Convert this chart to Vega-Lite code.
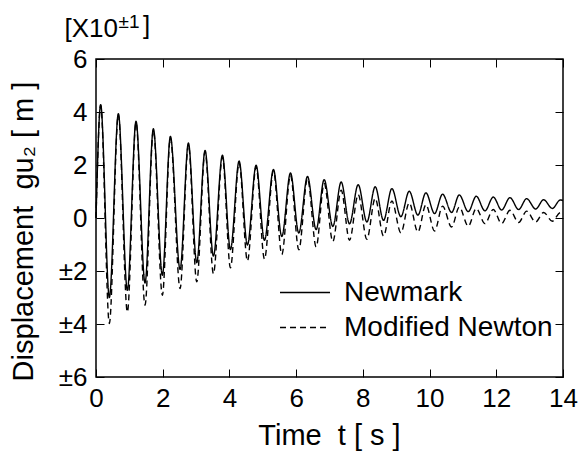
{
  "$schema": "https://vega.github.io/schema/vega-lite/v6.json",
  "width": 467,
  "height": 318,
  "autosize": {"type": "none"},
  "padding": {"left": 96, "top": 59, "right": 16, "bottom": 76},
  "background": "white",
  "title": {
    "text": "]", "orient": "top", "anchor": "start", "frame": "group",
    "font": "Liberation Sans", "fontSize": 26, "fontWeight": "normal", "color": "black",
    "baseline": "alphabetic", "offset": 0, "dx": 47, "dy": 48
  },
  "config": {
    "font": "Liberation Sans",
    "view": {"stroke": "black", "strokeWidth": 1.5},
    "axis": {
      "domain": false, "grid": false, "ticks": true,
      "tickColor": "black", "tickWidth": 1, "tickSize": -8,
      "labelFont": "Liberation Sans", "labelFontSize": 26, "labelColor": "black",
      "titleFont": "Liberation Sans", "titleFontSize": 29, "titleColor": "black", "titleFontWeight": "normal"
    },
    "legend": {
      "labelFont": "Liberation Sans", "labelFontSize": 28, "labelColor": "black", "labelLimit": 400
    }
  },
  "datasets": {
    "curves": [
      {"series": "Newmark", "t": 0, "u": 0},
      {"series": "Newmark", "t": 0.14, "u": 4.28},
      {"series": "Newmark", "t": 0.40, "u": -3.00},
      {"series": "Newmark", "t": 0.67, "u": 3.94},
      {"series": "Newmark", "t": 0.94, "u": -2.73},
      {"series": "Newmark", "t": 1.20, "u": 3.65},
      {"series": "Newmark", "t": 1.47, "u": -2.45},
      {"series": "Newmark", "t": 1.72, "u": 3.37},
      {"series": "Newmark", "t": 1.99, "u": -2.16},
      {"series": "Newmark", "t": 2.23, "u": 3.08},
      {"series": "Newmark", "t": 2.52, "u": -1.94},
      {"series": "Newmark", "t": 2.77, "u": 2.83},
      {"series": "Newmark", "t": 3.02, "u": -1.69},
      {"series": "Newmark", "t": 3.27, "u": 2.55},
      {"series": "Newmark", "t": 3.52, "u": -1.44},
      {"series": "Newmark", "t": 3.79, "u": 2.37},
      {"series": "Newmark", "t": 4.03, "u": -1.19},
      {"series": "Newmark", "t": 4.29, "u": 2.15},
      {"series": "Newmark", "t": 4.54, "u": -1.02},
      {"series": "Newmark", "t": 4.80, "u": 1.99},
      {"series": "Newmark", "t": 5.05, "u": -0.84},
      {"series": "Newmark", "t": 5.32, "u": 1.83},
      {"series": "Newmark", "t": 5.57, "u": -0.70},
      {"series": "Newmark", "t": 5.83, "u": 1.70},
      {"series": "Newmark", "t": 6.08, "u": -0.57},
      {"series": "Newmark", "t": 6.34, "u": 1.57},
      {"series": "Newmark", "t": 6.60, "u": -0.44},
      {"series": "Newmark", "t": 6.84, "u": 1.45},
      {"series": "Newmark", "t": 7.10, "u": -0.32},
      {"series": "Newmark", "t": 7.35, "u": 1.36},
      {"series": "Newmark", "t": 7.60, "u": -0.22},
      {"series": "Newmark", "t": 7.86, "u": 1.26},
      {"series": "Newmark", "t": 8.12, "u": -0.15},
      {"series": "Newmark", "t": 8.37, "u": 1.18},
      {"series": "Newmark", "t": 8.62, "u": -0.09},
      {"series": "Newmark", "t": 8.87, "u": 1.11},
      {"series": "Newmark", "t": 9.14, "u": 0.05},
      {"series": "Newmark", "t": 9.39, "u": 1.01},
      {"series": "Newmark", "t": 9.65, "u": 0.11},
      {"series": "Newmark", "t": 9.89, "u": 0.95},
      {"series": "Newmark", "t": 10.15, "u": 0.17},
      {"series": "Newmark", "t": 10.39, "u": 0.90},
      {"series": "Newmark", "t": 10.66, "u": 0.21},
      {"series": "Newmark", "t": 10.89, "u": 0.87},
      {"series": "Newmark", "t": 11.16, "u": 0.24},
      {"series": "Newmark", "t": 11.40, "u": 0.82},
      {"series": "Newmark", "t": 11.66, "u": 0.27},
      {"series": "Newmark", "t": 11.91, "u": 0.79},
      {"series": "Newmark", "t": 12.16, "u": 0.30},
      {"series": "Newmark", "t": 12.41, "u": 0.77},
      {"series": "Newmark", "t": 12.67, "u": 0.32},
      {"series": "Newmark", "t": 12.91, "u": 0.73},
      {"series": "Newmark", "t": 13.18, "u": 0.34},
      {"series": "Newmark", "t": 13.42, "u": 0.69},
      {"series": "Newmark", "t": 13.68, "u": 0.36},
      {"series": "Newmark", "t": 13.92, "u": 0.68},
      {"series": "Newmark", "t": 14.0, "u": 0.66},
      {"series": "Modified Newton", "t": 0, "u": 0},
      {"series": "Modified Newton", "t": 0.14, "u": 4.25},
      {"series": "Modified Newton", "t": 0.40, "u": -3.98},
      {"series": "Modified Newton", "t": 0.67, "u": 3.90},
      {"series": "Modified Newton", "t": 0.94, "u": -3.55},
      {"series": "Modified Newton", "t": 1.20, "u": 3.60},
      {"series": "Modified Newton", "t": 1.47, "u": -3.29},
      {"series": "Modified Newton", "t": 1.72, "u": 3.32},
      {"series": "Modified Newton", "t": 1.99, "u": -2.92},
      {"series": "Modified Newton", "t": 2.23, "u": 3.03},
      {"series": "Modified Newton", "t": 2.52, "u": -2.66},
      {"series": "Modified Newton", "t": 2.77, "u": 2.77},
      {"series": "Modified Newton", "t": 3.02, "u": -2.41},
      {"series": "Modified Newton", "t": 3.27, "u": 2.50},
      {"series": "Modified Newton", "t": 3.52, "u": -2.10},
      {"series": "Modified Newton", "t": 3.79, "u": 2.30},
      {"series": "Modified Newton", "t": 4.03, "u": -1.88},
      {"series": "Modified Newton", "t": 4.29, "u": 2.08},
      {"series": "Modified Newton", "t": 4.54, "u": -1.62},
      {"series": "Modified Newton", "t": 4.80, "u": 1.93},
      {"series": "Modified Newton", "t": 5.05, "u": -1.55},
      {"series": "Modified Newton", "t": 5.32, "u": 1.78},
      {"series": "Modified Newton", "t": 5.57, "u": -1.38},
      {"series": "Modified Newton", "t": 5.83, "u": 1.61},
      {"series": "Modified Newton", "t": 6.08, "u": -1.20},
      {"series": "Modified Newton", "t": 6.34, "u": 1.49},
      {"series": "Modified Newton", "t": 6.60, "u": -1.09},
      {"series": "Modified Newton", "t": 6.84, "u": 1.30},
      {"series": "Modified Newton", "t": 7.10, "u": -0.89},
      {"series": "Modified Newton", "t": 7.35, "u": 1.05},
      {"series": "Modified Newton", "t": 7.60, "u": -0.84},
      {"series": "Modified Newton", "t": 7.86, "u": 0.88},
      {"series": "Modified Newton", "t": 8.12, "u": -0.80},
      {"series": "Modified Newton", "t": 8.37, "u": 0.74},
      {"series": "Modified Newton", "t": 8.62, "u": -0.68},
      {"series": "Modified Newton", "t": 8.87, "u": 0.64},
      {"series": "Modified Newton", "t": 9.14, "u": -0.56},
      {"series": "Modified Newton", "t": 9.39, "u": 0.57},
      {"series": "Modified Newton", "t": 9.65, "u": -0.53},
      {"series": "Modified Newton", "t": 9.89, "u": 0.50},
      {"series": "Modified Newton", "t": 10.15, "u": -0.49},
      {"series": "Modified Newton", "t": 10.39, "u": 0.45},
      {"series": "Modified Newton", "t": 10.66, "u": -0.34},
      {"series": "Modified Newton", "t": 10.89, "u": 0.41},
      {"series": "Modified Newton", "t": 11.16, "u": -0.31},
      {"series": "Modified Newton", "t": 11.40, "u": 0.36},
      {"series": "Modified Newton", "t": 11.66, "u": -0.21},
      {"series": "Modified Newton", "t": 11.91, "u": 0.32},
      {"series": "Modified Newton", "t": 12.16, "u": -0.21},
      {"series": "Modified Newton", "t": 12.41, "u": 0.29},
      {"series": "Modified Newton", "t": 12.67, "u": -0.17},
      {"series": "Modified Newton", "t": 12.91, "u": 0.26},
      {"series": "Modified Newton", "t": 13.18, "u": -0.15},
      {"series": "Modified Newton", "t": 13.42, "u": 0.21},
      {"series": "Modified Newton", "t": 13.68, "u": -0.12},
      {"series": "Modified Newton", "t": 13.92, "u": 0.20},
      {"series": "Modified Newton", "t": 14.0, "u": 0.15}
    ]
  },
  "resolve": {"axis": {"x": "independent", "y": "independent"}},
  "layer": [
    {
      "mark": {"type": "rule", "color": "#444444", "strokeWidth": 1},
      "encoding": {
        "y": {"datum": 0, "type": "quantitative", "scale": {"domain": [-6, 6], "nice": false, "zero": false}, "axis": null}
      }
    },
    {
      "data": {"name": "curves"},
      "mark": {"type": "line", "interpolate": "monotone", "strokeWidth": 1.4, "color": "black"},
      "encoding": {
        "x": {
          "field": "t", "type": "quantitative",
          "scale": {"domain": [0, 14], "nice": false, "zero": false},
          "axis": {
            "orient": "bottom", "values": [0, 2, 4, 6, 8, 10, 12, 14], "labelPadding": 16, "labelFlush": false,
            "title": "Time\u00a0\u00a0t [ s ]", "titleAlign": "center", "titleBaseline": "alphabetic",
            "titleX": 233, "titleY": 67
          }
        },
        "y": {
          "field": "u", "type": "quantitative",
          "scale": {"domain": [-6, 6], "nice": false, "zero": false},
          "axis": {
            "orient": "left", "values": [-6, -4, -2, 0, 2, 4, 6], "labelPadding": 17,
            "labelExpr": "datum.value < 0 ? '±' + (-datum.value) : '' + datum.value",
            "title": "Displacement\u00a0\u00a0gu₂ [ m ]",
            "titleAngle": -90, "titleAlign": "center", "titleBaseline": "alphabetic",
            "titleX": -64, "titleY": 172
          }
        },
        "strokeDash": {
          "field": "series", "type": "nominal",
          "scale": {"domain": ["Newmark", "Modified Newton"], "range": [[1, 0], [6, 4]]},
          "legend": {
            "orient": "none", "legendX": 183, "legendY": 216, "title": null,
            "symbolType": "stroke", "symbolSize": 2500, "symbolStrokeWidth": 1.3,
            "symbolStrokeColor": "black", "labelOffset": 13, "clipHeight": 35,
            "padding": 0, "rowPadding": 0
          }
        }
      }
    },
    {
      "data": {"name": "curves"},
      "mark": {"type": "point", "opacity": 0},
      "encoding": {
        "x": {
          "field": "t", "type": "quantitative",
          "scale": {"domain": [0, 14], "nice": false, "zero": false},
          "axis": {
            "orient": "top", "values": [0, 2, 4, 6, 8, 10, 12, 14], "labels": false,
            "title": "[X10", "titleFontSize": 26, "titleAngle": 0,
            "titleAlign": "left", "titleBaseline": "alphabetic", "titleX": -32, "titleY": -23
          }
        },
        "y": {
          "field": "u", "type": "quantitative",
          "scale": {"domain": [-6, 6], "nice": false, "zero": false},
          "axis": {
            "orient": "right", "values": [-6, -4, -2, 0, 2, 4, 6], "labels": false,
            "title": "±1", "titleFontSize": 19, "titleAngle": 0,
            "titleAlign": "left", "titleBaseline": "alphabetic", "titleX": -445, "titleY": -32
          }
        }
      }
    }
  ]
}
